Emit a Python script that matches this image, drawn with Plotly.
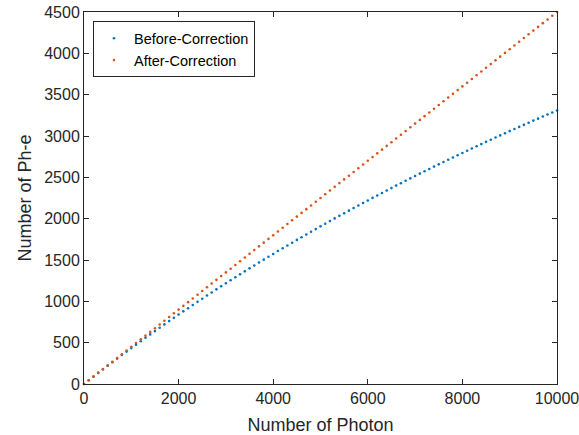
import plotly.graph_objects as go

photons = [i * 100 for i in range(101)]

before_correction = [
    0, 45, 89, 134, 177, 221, 264, 307, 350, 392,
    434, 476, 518, 559, 600, 640, 681, 721, 761, 800,
    840, 879, 917, 956, 994, 1032, 1070, 1107, 1145, 1182,
    1218, 1255, 1291, 1327, 1363, 1399, 1434, 1469, 1504, 1539,
    1573, 1608, 1642, 1676, 1709, 1743, 1776, 1809, 1842, 1874,
    1907, 1939, 1971, 2003, 2034, 2066, 2097, 2128, 2159, 2190,
    2220, 2251, 2281, 2311, 2341, 2370, 2400, 2429, 2458, 2487,
    2516, 2545, 2573, 2601, 2630, 2657, 2685, 2713, 2740, 2768,
    2795, 2822, 2849, 2876, 2902, 2929, 2955, 2981, 3007, 3033,
    3059, 3085, 3110, 3135, 3160, 3186, 3210, 3235, 3260, 3284,
    3309,
]

after_correction = [
    0, 45, 90, 135, 180, 225, 270, 315, 360, 405,
    450, 495, 540, 585, 630, 675, 720, 765, 810, 855,
    900, 945, 990, 1035, 1080, 1125, 1170, 1215, 1260, 1305,
    1350, 1395, 1440, 1485, 1530, 1575, 1620, 1665, 1710, 1755,
    1800, 1845, 1890, 1935, 1980, 2025, 2070, 2115, 2160, 2205,
    2250, 2295, 2340, 2385, 2430, 2475, 2520, 2565, 2610, 2655,
    2700, 2745, 2790, 2835, 2880, 2925, 2970, 3015, 3060, 3105,
    3150, 3195, 3240, 3285, 3330, 3375, 3420, 3465, 3510, 3555,
    3600, 3645, 3690, 3735, 3780, 3825, 3870, 3915, 3960, 4005,
    4050, 4095, 4140, 4185, 4230, 4275, 4320, 4365, 4410, 4455,
    4500,
]

series_names = ["Before-Correction", "After-Correction"]
x_ticks = [0, 2000, 4000, 6000, 8000, 10000]
y_ticks = [0, 500, 1000, 1500, 2000, 2500, 3000, 3500, 4000, 4500]

FONT = "Liberation Sans, Arial, Helvetica, sans-serif"
AX = "#262626"

fig = go.Figure()
fig.add_trace(go.Scatter(x=photons, y=before_correction, mode="markers",
                         name=series_names[0], cliponaxis=False,
                         marker=dict(color="#0072BD", size=2.6, line=dict(width=0))))
fig.add_trace(go.Scatter(x=photons, y=after_correction, mode="markers",
                         name=series_names[1], cliponaxis=False,
                         marker=dict(color="#D95319", size=2.6, line=dict(width=0))))

axis_common = dict(
    showgrid=False, zeroline=False, showline=True, linecolor=AX, linewidth=1,
    mirror="allticks", ticks="inside", ticklen=5, tickcolor=AX, tickwidth=1,
    tickfont=dict(family=FONT, size=16, color=AX), automargin=False,
    ticklabeloverflow="allow",
)

fig.update_layout(
    width=579, height=435,
    margin=dict(l=84, r=22, t=12, b=51),
    paper_bgcolor="white", plot_bgcolor="white",
    font=dict(family=FONT, color=AX),
    showlegend=True,
    legend=dict(x=0.019, y=0.975, xanchor="left", yanchor="top",
                bgcolor="white", bordercolor=AX, borderwidth=1,
                font=dict(family=FONT, size=14.5, color="#000000"),
                tracegroupgap=0, itemsizing="trace"),
    xaxis=dict(range=[0, 10000], tickvals=x_ticks,
               ticktext=[str(v) for v in x_ticks],
               title=dict(text="Number of Photon", font=dict(family=FONT, size=18, color=AX), standoff=12),
               **axis_common),
    yaxis=dict(range=[0, 4500], tickvals=y_ticks,
               ticktext=[str(v) for v in y_ticks],
               title=dict(text="Number of Ph-e", font=dict(family=FONT, size=18, color=AX), standoff=7),
               **axis_common),
)

fig.write_html("out.html",
               config={"displayModeBar": False, "staticPlot": True},
               post_script="document.body.style.margin='0';document.body.style.overflow='hidden';")
